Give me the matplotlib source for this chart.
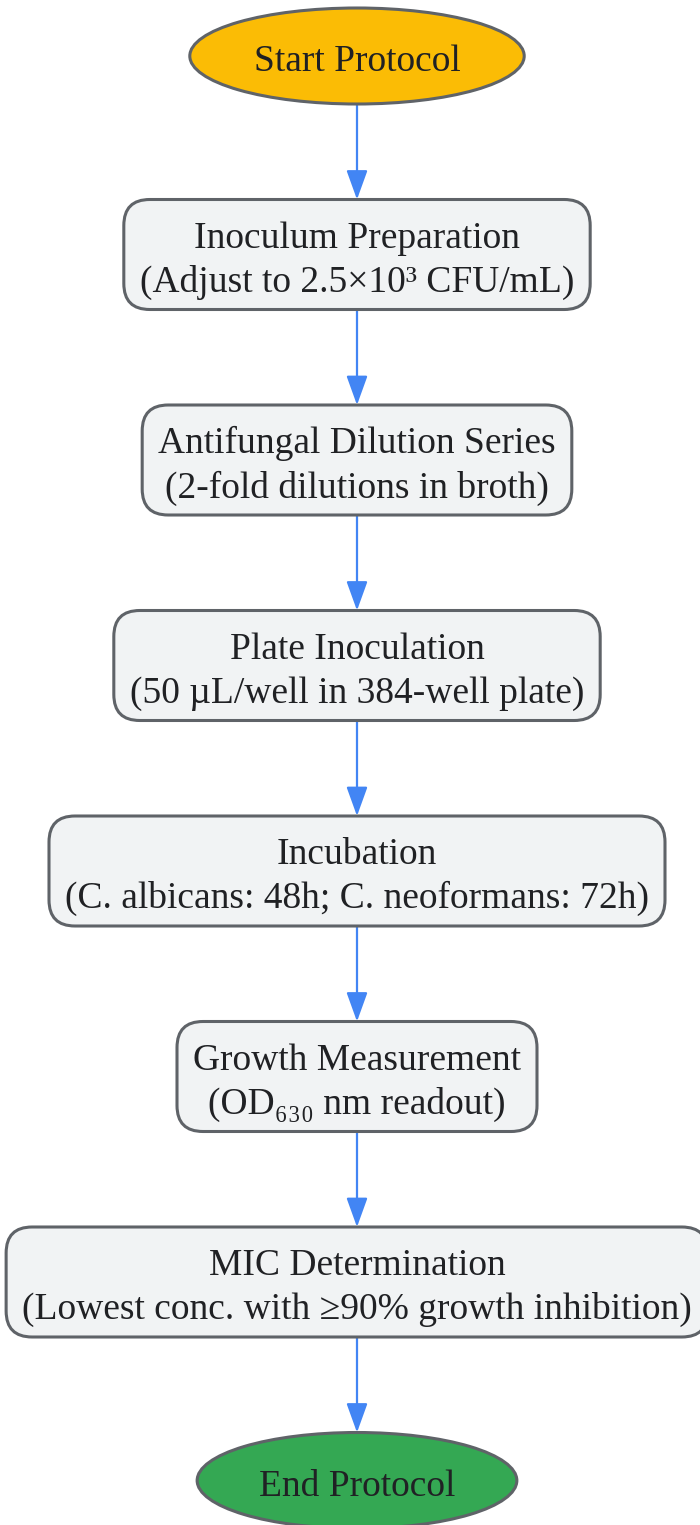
import numpy as np
import matplotlib
matplotlib.use("Agg")
import matplotlib.pyplot as plt
from matplotlib.patches import FancyBboxPatch, Ellipse, FancyArrowPatch

# ------------------------
# Flowchart content
# ------------------------

NODE_LABELS = [
    "Start Protocol",
    "Inoculum Preparation\n(Adjust to 2.5×10³ CFU/mL)",
    "Antifungal Dilution Series\n(2-fold dilutions in broth)",
    "Plate Inoculation\n(50 µL/well in 384-well plate)",
    "Incubation\n(C. albicans: 48h; C. neoformans: 72h)",
    "Growth Measurement\n(OD₆₃₀ nm readout)",
    "MIC Determination\n(Lowest conc. with ≥90% growth inhibition)",
    "End Protocol",
]
NODE_KINDS = ["start", "step", "step", "step", "step", "step", "step", "end"]

# ------------------------
# Styling
# ------------------------

W, H = 700, 1525
CX = 357
FILLS = {"start": "#FBBC05", "step": "#F1F3F4", "end": "#34A853"}
EDGE = "#5F6368"
ARROW = "#4285F4"
TEXT = "#202124"
FONT = ["Liberation Serif", "DejaVu Sans"]
FS = 27

ELL_H = 96
BOX_H = 110
GAP = 95.5
TOP = 8
BOX_PAD = 16
TEXT_DY = 6   # text sits a little below the node centre

fig = plt.figure(figsize=(W / 100, H / 100), dpi=100)
ax = fig.add_axes([0, 0, 1, 1])
ax.set_xlim(0, W)
ax.set_ylim(H, 0)
ax.axis("off")

renderer = fig.canvas.get_renderer()

y = TOP
spans = []
for label, kind in zip(NODE_LABELS, NODE_KINDS):
    h = ELL_H if kind != "step" else BOX_H
    cy = y + h / 2
    txt = ax.text(CX, cy + TEXT_DY, label, ha="center", va="center", fontsize=FS,
                  family=FONT, color=TEXT, zorder=3, linespacing=1.34)
    tw = txt.get_window_extent(renderer).width
    if kind == "step":
        w = tw + 2 * BOX_PAD
        patch = FancyBboxPatch((CX - w / 2, y), w, h,
                               boxstyle="round,pad=0,rounding_size=26",
                               fc=FILLS[kind], ec=EDGE, lw=2.2, zorder=2)
    else:
        w = tw * np.sqrt(2) + 42
        patch = Ellipse((CX, cy), w, h, fc=FILLS[kind], ec=EDGE, lw=2.2, zorder=2)
    ax.add_patch(patch)
    spans.append((y, y + h))
    y += h + GAP

# arrows between consecutive nodes
for (_, b), (t, _) in zip(spans[:-1], spans[1:]):
    arr = FancyArrowPatch((CX, b), (CX, t),
                          arrowstyle="-|>,head_length=18,head_width=6.5",
                          mutation_scale=1, color=ARROW, lw=1.6,
                          shrinkA=0, shrinkB=0, zorder=1)
    ax.add_patch(arr)

fig.savefig("out.png", dpi=100, facecolor="white")
